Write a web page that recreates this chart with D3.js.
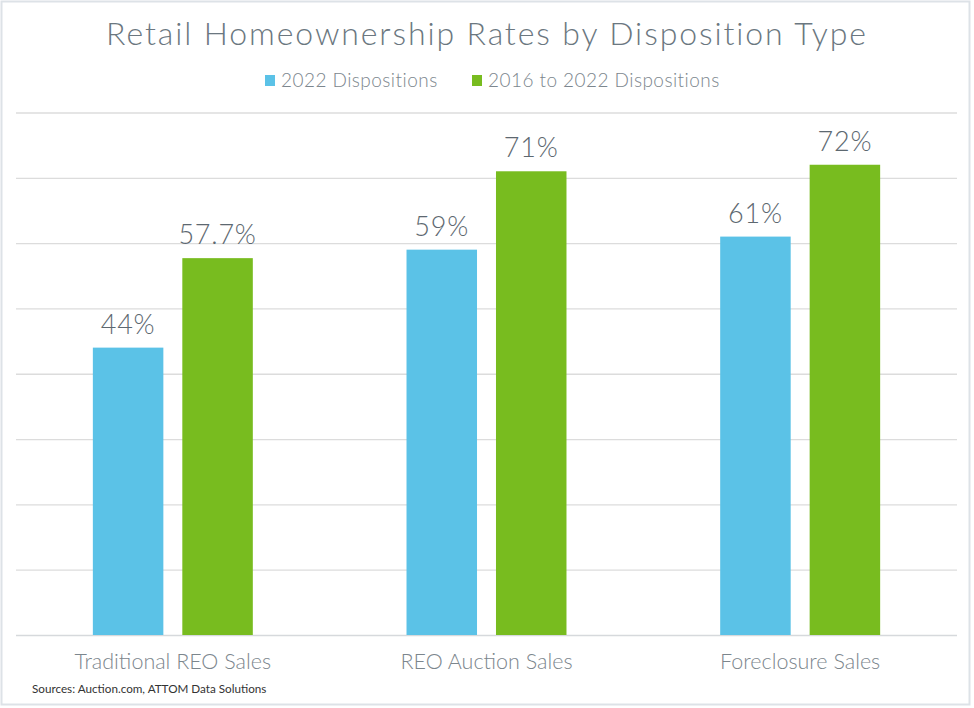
<!DOCTYPE html>
<html><head><meta charset="utf-8">
<script src="https://cdn.jsdelivr.net/npm/d3@7"></script>
<style>
html,body{margin:0;padding:0;background:#fff;}
svg{display:block;}
</style></head>
<body><svg id="c" width="974" height="708"></svg>
<script>
const title = "Retail Homeownership Rates by Disposition Type";
const categories = ["Traditional REO Sales", "REO Auction Sales", "Foreclosure Sales"];
const seriesNames = ["2022 Dispositions", "2016 to 2022 Dispositions"];
const values2022 = [44, 59, 61];
const values2016to2022 = [57.7, 71, 72];
const labels2022 = ["44%", "59%", "61%"];
const labels2016to2022 = ["57.7%", "71%", "72%"];
const yTicks = [0, 10, 20, 30, 40, 50, 60, 70, 80];
const source = "Sources: Auction.com, ATTOM Data Solutions";

const colors = ["#5bc2e7", "#78bc1f"];
const font = "Lato, 'Open Sans', sans-serif";
const svg = d3.select("#c");

svg.append("rect").attr("x", 1.5).attr("y", 1.5).attr("width", 968).attr("height", 703)
  .attr("fill", "#fff").attr("stroke", "#dde2e7").attr("stroke-width", 2);

const x0 = d3.scaleBand().domain(categories).range([16, 957]).paddingInner(0).paddingOuter(0);
const bw = x0.bandwidth();
const x1 = d3.scaleBand().domain(seriesNames).range([bw * 0.245, bw * 0.755]).paddingInner(0.212).paddingOuter(0);
const y = d3.scaleLinear().domain([0, 80]).range([635, 112.5]);

// gridlines
const yAxis = d3.axisLeft(y).tickValues(yTicks).tickSize(-(957 - 16)).tickFormat("");
const ga = svg.append("g").attr("transform", "translate(16,0)").call(yAxis);
ga.select(".domain").remove();
ga.selectAll(".tick line").attr("stroke", "#dcdcdc").attr("stroke-width", 1.3);
ga.selectAll(".tick").filter(d => d === 0).select("line").attr("stroke", "#d6d9dc").attr("stroke-width", 1.6);

// bars
const data = categories.map((c, i) => ({
  cat: c,
  vals: [
    {s: seriesNames[0], v: values2022[i], l: labels2022[i], k: 0},
    {s: seriesNames[1], v: values2016to2022[i], l: labels2016to2022[i], k: 1}
  ]
}));

const g = svg.selectAll("g.grp").data(data).join("g").attr("class", "grp")
  .attr("transform", d => `translate(${x0(d.cat)},0)`);
g.selectAll("rect").data(d => d.vals).join("rect")
  .attr("x", d => x1(d.s)).attr("width", x1.bandwidth())
  .attr("y", d => y(d.v)).attr("height", d => y(0) - y(d.v))
  .attr("fill", d => colors[d.k]);
g.selectAll("text").data(d => d.vals).join("text")
  .attr("x", d => x1(d.s) + x1.bandwidth() / 2)
  .attr("y", d => y(d.v) - 14)
  .attr("text-anchor", "middle")
  .attr("font-family", font).attr("font-weight", 300)
  .attr("font-size", 27).attr("letter-spacing", 0.8).attr("fill", "#5d6870")
  .text(d => d.l);

// x axis labels
const xAxis = d3.axisBottom(x0).tickSize(0).tickPadding(0);
const gx = svg.append("g").attr("transform", "translate(0,635)").call(xAxis);
gx.select(".domain").remove();
gx.selectAll("text").attr("y", 34).attr("dy", 0)
  .attr("font-family", font).attr("font-weight", 300).attr("font-size", 21.5).attr("fill", "#7c868d");

// title
svg.append("text").attr("x", 487).attr("y", 45).attr("text-anchor", "middle")
  .attr("font-family", font).attr("font-weight", 300).attr("font-size", 32)
  .attr("letter-spacing", 1.9)
  .attr("fill", "#6b7780").text(title);

// legend
const legend = [{n: seriesNames[0], x: 265, c: colors[0]}, {n: seriesNames[1], x: 472, c: colors[1]}];
const lg = svg.selectAll("g.leg").data(legend).join("g").attr("class", "leg")
  .attr("transform", d => `translate(${d.x},0)`);
lg.append("rect").attr("x", 0).attr("y", 75).attr("width", 10).attr("height", 11).attr("fill", d => d.c);
lg.append("text").attr("x", 16).attr("y", 87)
  .attr("font-family", font).attr("font-weight", 300).attr("font-size", 19)
  .attr("letter-spacing", 0.45).attr("fill", "#7c868d")
  .text(d => d.n);

// source
svg.append("text").attr("x", 32).attr("y", 693)
  .attr("font-family", font).attr("font-size", 11.7).attr("fill", "#333")
  .text(source);
</script></body></html>
